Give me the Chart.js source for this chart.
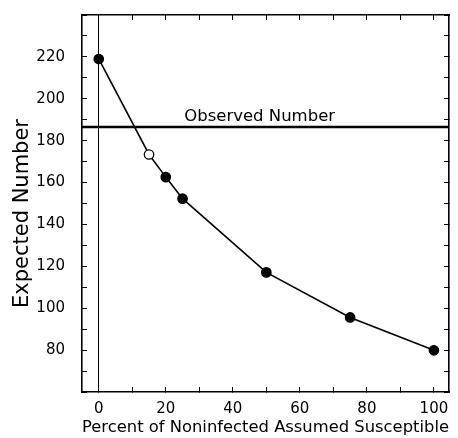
<!DOCTYPE html>
<html>
<head>
<meta charset="utf-8">
<script src="https://cdn.jsdelivr.net/npm/chart.js@4/dist/chart.umd.min.js"></script>
<style>
  html, body { margin: 0; padding: 0; background: #ffffff; }
  #wrap { width: 458px; height: 438px; }
</style>
</head>
<body>
<div id="wrap"><canvas id="c" width="458" height="438"></canvas></div>
<script>
// ---- data ----
const percentSusceptible = [0, 15, 20, 25, 50, 75, 100];
const expectedNumber     = [219, 173.4, 162.6, 152.3, 117.1, 95.6, 79.9];
const openMarkerAt       = [15];          // x values drawn as open circles
const observedNumber     = 186.5;
const observedLabel      = 'Observed Number';
const observedLabelX     = 48;
const xRange             = [-5, 104.5];
const yRange             = [60, 240];
const xTickStep          = 10;
const yTickStep          = 10;
const xLabelEvery        = 20;
const yLabelValues       = [80, 100, 120, 140, 160, 180, 200, 220];
const xTitle             = 'Percent of Noninfected Assumed Susceptible';
const yTitle             = 'Expected Number';

const FONT = '"DejaVu Sans", "Liberation Sans", Arial, sans-serif';

const mainPoints = percentSusceptible.map((x, i) => ({ x: x, y: expectedNumber[i] }));
const observedPoints = [{ x: xRange[0], y: observedNumber }, { x: xRange[1], y: observedNumber }];

const observedLabelPlugin = {
  id: 'observedLabel',
  afterDatasetsDraw(chart) {
    const ctx = chart.ctx;
    const xs = chart.scales.x, ys = chart.scales.y;
    ctx.save();
    ctx.font = '16.5px ' + FONT;
    ctx.fillStyle = '#000';
    ctx.textAlign = 'center';
    ctx.textBaseline = 'alphabetic';
    ctx.fillText(observedLabel, xs.getPixelForValue(observedLabelX), ys.getPixelForValue(observedNumber) - 6);
    ctx.restore();
  }
};

const innerTicks = (extra) => Object.assign({
  drawOnChartArea: false,
  drawTicks: true,
  tickLength: -5,
  tickColor: '#000',
  lineWidth: 1,
  color: '#000'
}, extra || {});

const noPad = s => { s.paddingTop = 0; s.paddingBottom = 0; s.paddingLeft = 0; s.paddingRight = 0; };

new Chart(document.getElementById('c'), {
  type: 'scatter',
  data: {
    datasets: [
      {
        label: 'expected',
        data: mainPoints,
        showLine: true,
        borderColor: '#000',
        borderWidth: 1.6,
        pointRadius: 4.7,
        pointHoverRadius: 4.7,
        pointBorderWidth: 1.3,
        pointBorderColor: '#000',
        pointBackgroundColor: ctx => (ctx.raw && openMarkerAt.includes(ctx.raw.x)) ? '#fff' : '#000',
        order: 1
      },
      {
        label: 'observed',
        data: observedPoints,
        showLine: true,
        borderColor: '#000',
        borderWidth: 2.6,
        pointRadius: 0,
        order: 2
      }
    ]
  },
  options: {
    responsive: false,
    animation: false,
    devicePixelRatio: 1,
    layout: { padding: { top: 15, right: 9, left: 0, bottom: 0 } },
    plugins: { legend: { display: false }, tooltip: { enabled: false } },
    scales: {
      x: {
        type: 'linear', position: 'bottom',
        min: xRange[0], max: xRange[1],
        afterFit: s => { s.height = 46; noPad(s); },
        border: { display: true, color: '#000', width: 1.6 },
        grid: innerTicks(),
        ticks: {
          stepSize: xTickStep, includeBounds: false, autoSkip: false, maxRotation: 0,
          color: '#000', font: { family: FONT, size: 15 }, padding: 13,
          callback: v => (Math.abs(v % xLabelEvery) < 1e-6 ? String(Math.round(v)) : '')
        },
        title: {
          display: true, text: xTitle, color: '#000',
          font: { family: FONT, size: 16.7 }, padding: { top: 0, bottom: 0 }
        }
      },
      x2: {
        type: 'linear', position: 'top',
        min: xRange[0], max: xRange[1],
        afterFit: s => { s.height = 0; noPad(s); },
        border: { display: true, color: '#000', width: 1.6 },
        grid: innerTicks({
          drawOnChartArea: true,
          color: c => (c.tick && Math.abs(c.tick.value) < 1e-6) ? '#000' : 'rgba(0,0,0,0)'
        }),
        ticks: { stepSize: xTickStep, includeBounds: false, display: false }
      },
      y: {
        type: 'linear', position: 'left',
        min: yRange[0], max: yRange[1],
        afterFit: s => { s.width = 82; noPad(s); },
        border: { display: true, color: '#000', width: 1.6 },
        grid: innerTicks(),
        ticks: {
          stepSize: yTickStep, includeBounds: false, autoSkip: false,
          color: '#000', font: { family: FONT, size: 15 }, padding: 22,
          callback: v => (yLabelValues.includes(v) ? String(v) : '')
        },
        title: {
          display: true, text: yTitle + '   ', color: '#000',
          font: { family: FONT, size: 21 }, padding: { top: 10, bottom: 0 }
        }
      },
      y2: {
        type: 'linear', position: 'right',
        min: yRange[0], max: yRange[1],
        afterFit: s => { s.width = 0; noPad(s); },
        border: { display: true, color: '#000', width: 1.6 },
        grid: innerTicks(),
        ticks: { stepSize: yTickStep, includeBounds: false, display: false }
      }
    }
  },
  plugins: [observedLabelPlugin]
});
</script>
</body>
</html>
